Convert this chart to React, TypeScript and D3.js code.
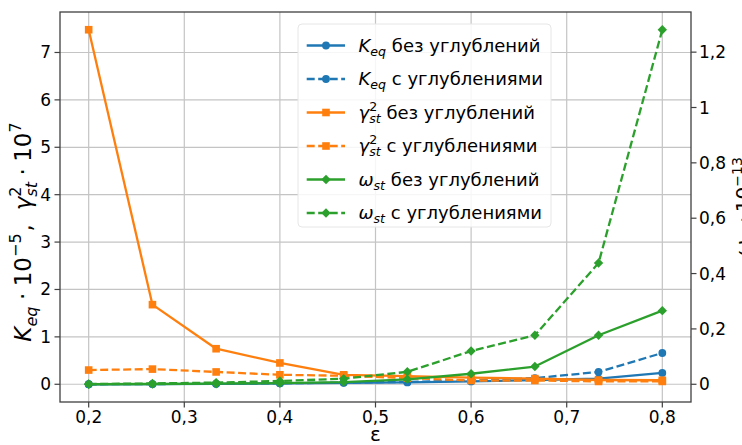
import React from 'react';
import * as d3 from 'd3';

// ---- data ----
const eps = [0.2, 0.2667, 0.3333, 0.4, 0.4667, 0.5333, 0.6, 0.6667, 0.7333, 0.8];
const kEqNo = [0.0, 0.005, 0.01, 0.02, 0.03, 0.04, 0.06, 0.09, 0.12, 0.24];
const kEqWith = [0.0, 0.005, 0.01, 0.02, 0.035, 0.05, 0.08, 0.13, 0.26, 0.66];
const gammaNo = [7.48, 1.68, 0.75, 0.45, 0.2, 0.17, 0.14, 0.12, 0.09, 0.085];
const gammaWith = [0.3, 0.32, 0.26, 0.2, 0.18, 0.13, 0.08, 0.08, 0.06, 0.06];
const omegaNo = [0.0, 0.001, 0.002, 0.004, 0.008, 0.018, 0.038, 0.064, 0.177, 0.266];
const omegaWith = [0.001, 0.003, 0.006, 0.012, 0.02, 0.045, 0.12, 0.177, 0.438, 1.281];
const xTicks = [0.2, 0.3, 0.4, 0.5, 0.6, 0.7, 0.8];
const leftTicks = [0, 1, 2, 3, 4, 5, 6, 7];
const rightTicks = [0, 0.2, 0.4, 0.6, 0.8, 1.0, 1.2];
const labelNo = 'без углублений';
const labelWith = 'с углублениями';

const FONT = '"DejaVu Sans", sans-serif';
const BLUE = '#1f77b4';
const ORANGE = '#ff7f0e';
const GREEN = '#2ca02c';

type Seg =
  | { t: string; it?: boolean; sub?: boolean; sup?: boolean; gap?: number }
  | { stackSup: string; stackSub: string; gap?: number };

let _ctx: CanvasRenderingContext2D | null = null;
function measure(t: string, size: number, it: boolean) {
  if (!_ctx) _ctx = document.createElement('canvas').getContext('2d');
  if (!_ctx) return t.length * size * 0.6;
  _ctx.font = `${it ? 'italic ' : ''}${size}px "DejaVu Sans"`;
  return _ctx.measureText(t).width;
}

function layout(segs: Seg[], fs: number) {
  const items: { t: string; x: number; dy: number; size: number; it: boolean }[] = [];
  let x = 0;
  for (const s of segs) {
    x += (s.gap || 0) * fs;
    if ('stackSup' in s) {
      const ss = fs * 0.7;
      const w1 = measure(s.stackSup, ss, false);
      const w2 = measure(s.stackSub, ss, true);
      items.push({ t: s.stackSup, x, dy: -0.42 * fs, size: ss, it: false });
      items.push({ t: s.stackSub, x, dy: 0.24 * fs, size: ss, it: true });
      x += Math.max(w1, w2);
    } else {
      const small = s.sub || s.sup;
      const size = small ? fs * 0.7 : fs;
      const dy = s.sub ? 0.24 * fs : s.sup ? -0.42 * fs : 0;
      items.push({ t: s.t, x, dy, size, it: !!s.it });
      x += measure(s.t, size, !!s.it);
    }
  }
  return { items, width: x };
}

function MathText(props: { segs: Seg[]; fs: number; x: number; y: number; anchor?: string; rotate?: number }) {
  const { segs, fs, x, y, anchor = 'start', rotate = 0 } = props;
  const { items, width } = layout(segs, fs);
  const off = anchor === 'middle' ? -width / 2 : anchor === 'end' ? -width : 0;
  return (
    <g transform={`translate(${x},${y}) rotate(${rotate})`}>
      {items.map((it, i) => (
        <text key={i} x={it.x + off} y={it.dy} fontSize={it.size} fontStyle={it.it ? 'italic' : 'normal'}
          fontFamily={FONT} fill="#000">{it.t}</text>
      ))}
    </g>
  );
}

function Marker({ kind, x, y, color }: { kind: string; x: number; y: number; color: string }) {
  if (kind === 'circle') return <circle cx={x} cy={y} r={3.9} fill={color} />;
  if (kind === 'square') return <rect x={x - 3.8} y={y - 3.8} width={7.6} height={7.6} fill={color} />;
  const h = 4.7;
  return <polygon points={`${x},${y - h} ${x + h},${y} ${x},${y + h} ${x - h},${y}`} fill={color} />;
}

const fmt = (v: number) => String(+v.toFixed(1)).replace('.', ',');

export default function App() {
  const W = 742, H = 445;
  const L = 60, R = 691, T = 12, B = 402;

  const x = d3.scaleLinear().domain([0.17, 0.83]).range([L, R]);
  const leftAll = [...kEqNo, ...kEqWith, ...gammaNo, ...gammaWith];
  const [lmin, lmax] = d3.extent(leftAll) as [number, number];
  const lpad = (lmax - lmin) * 0.05;
  const yL = d3.scaleLinear().domain([lmin - lpad, lmax + lpad]).range([B, T]);
  const rightAll = [...omegaNo, ...omegaWith];
  const [rmin, rmax] = d3.extent(rightAll) as [number, number];
  const rpad = (rmax - rmin) * 0.05;
  const yR = d3.scaleLinear().domain([rmin - rpad, rmax + rpad]).range([B, T]);

  const series = [
    { vals: kEqNo, y: yL, color: BLUE, dash: false, marker: 'circle' },
    { vals: kEqWith, y: yL, color: BLUE, dash: true, marker: 'circle' },
    { vals: gammaNo, y: yL, color: ORANGE, dash: false, marker: 'square' },
    { vals: gammaWith, y: yL, color: ORANGE, dash: true, marker: 'square' },
    { vals: omegaNo, y: yR, color: GREEN, dash: false, marker: 'diamond' },
    { vals: omegaWith, y: yR, color: GREEN, dash: true, marker: 'diamond' },
  ];

  const legendSegs: Seg[][] = [
    [{ t: 'K', it: true }, { t: 'eq', it: true, sub: true }, { t: labelNo, gap: 0.32 }],
    [{ t: 'K', it: true }, { t: 'eq', it: true, sub: true }, { t: labelWith, gap: 0.32 }],
    [{ t: 'γ', it: true }, { stackSup: '2', stackSub: 'st' }, { t: labelNo, gap: 0.32 }],
    [{ t: 'γ', it: true }, { stackSup: '2', stackSub: 'st' }, { t: labelWith, gap: 0.32 }],
    [{ t: 'ω', it: true }, { t: 'st', it: true, sub: true }, { t: labelNo, gap: 0.32 }],
    [{ t: 'ω', it: true }, { t: 'st', it: true, sub: true }, { t: labelWith, gap: 0.32 }],
  ];

  const leftLabel: Seg[] = [
    { t: 'K', it: true }, { t: 'eq', it: true, sub: true },
    { t: '·', gap: 0.28 }, { t: '10', gap: 0.28 }, { t: '−5', sup: true }, { t: ',', gap: 0.08 },
    { t: 'γ', it: true, gap: 0.6 }, { stackSup: '2', stackSub: 'st' },
    { t: '·', gap: 0.28 }, { t: '10', gap: 0.28 }, { t: '7', sup: true },
  ];
  const rightLabel: Seg[] = [
    { t: 'ω', it: true }, { t: 'st', it: true, sub: true },
    { t: '·', gap: 0.22 }, { t: '10', gap: 0.22 }, { t: '−13', sup: true },
  ];

  const lineGen = (ys: d3.ScaleLinear<number, number>) =>
    d3.line<number>().x((_, i) => x(eps[i])).y((v) => ys(v));

  const legX = 298, legY = 24, legW = 253, legH = 203;
  const rowY0 = 45.5, rowStep = 33.5;

  return (
    <svg width={W} height={H} viewBox={`0 0 ${W} ${H}`}
      style={{ position: 'absolute', left: 0, top: 0, background: '#fff' }}>
      <rect x={0} y={0} width={W} height={H} fill="#fff" />
      {/* grid */}
      <g stroke="#c4c4c4" strokeWidth={1.2}>
        {xTicks.map((t) => <line key={'gx' + t} x1={x(t)} x2={x(t)} y1={T} y2={B} />)}
        {leftTicks.map((t) => <line key={'gy' + t} x1={L} x2={R} y1={yL(t)} y2={yL(t)} />)}
      </g>
      {/* series */}
      {series.map((s, si) => (
        <g key={si}>
          <path d={lineGen(s.y)(s.vals) || ''} fill="none" stroke={s.color} strokeWidth={2.3}
            strokeDasharray={s.dash ? '8,3.5' : undefined} strokeLinejoin="round" />
          {s.vals.map((v, i) => <Marker key={i} kind={s.marker} x={x(eps[i])} y={s.y(v)} color={s.color} />)}
        </g>
      ))}
      {/* frame */}
      <rect x={L} y={T} width={R - L} height={B - T} fill="none" stroke="#404040" strokeWidth={1.3} />
      {/* ticks */}
      <g stroke="#404040" strokeWidth={1.2}>
        {xTicks.map((t) => <line key={'tx' + t} x1={x(t)} x2={x(t)} y1={B} y2={B + 5.5} />)}
        {leftTicks.map((t) => <line key={'tl' + t} x1={L} x2={L - 5.5} y1={yL(t)} y2={yL(t)} />)}
        {rightTicks.map((t) => <line key={'tr' + t} x1={R} x2={R + 5.5} y1={yR(t)} y2={yR(t)} />)}
      </g>
      <g fontFamily={FONT} fontSize={17} fill="#000">
        {xTicks.map((t) => <text key={'lx' + t} x={x(t)} y={423} textAnchor="middle">{fmt(t)}</text>)}
        {leftTicks.map((t) => <text key={'ll' + t} x={51} y={yL(t) + 6} textAnchor="end">{fmt(t)}</text>)}
        {rightTicks.map((t) => <text key={'lr' + t} x={699} y={yR(t) + 6} textAnchor="start">{fmt(t)}</text>)}
      </g>
      {/* axis labels */}
      <text x={375.5} y={441} textAnchor="middle" fontFamily={FONT} fontSize={20} fill="#000">ε</text>
      <MathText segs={leftLabel} fs={23} x={31} y={232} anchor="middle" rotate={-90} />
      <MathText segs={rightLabel} fs={20} x={750} y={207} anchor="middle" rotate={-90} />
      {/* legend */}
      <rect x={legX} y={legY} width={legW} height={legH} rx={4} fill="#fff" fillOpacity={0.85} stroke="#e6e6e6" strokeWidth={1} />
      {series.map((s, i) => {
        const cy = rowY0 + i * rowStep;
        return (
          <g key={'leg' + i}>
            <line x1={306.7} x2={345} y1={cy} y2={cy} stroke={s.color} strokeWidth={2.3}
              strokeDasharray={s.dash ? '8,3.5' : undefined} />
            <Marker kind={s.marker} x={326} y={cy} color={s.color} />
            <MathText segs={legendSegs[i]} fs={18} x={358.5} y={cy + 6} />
          </g>
        );
      })}
    </svg>
  );
}
